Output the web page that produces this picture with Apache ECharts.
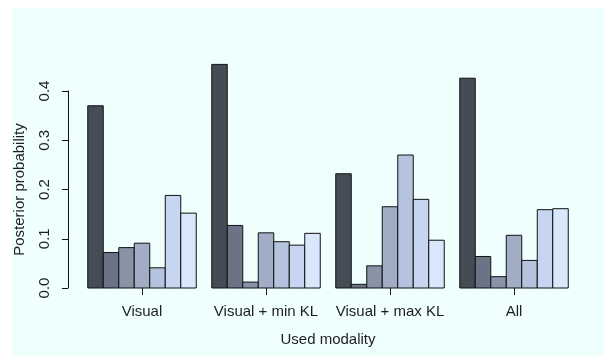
<!DOCTYPE html>
<html>
<head>
<meta charset="utf-8">
<script src="https://cdn.jsdelivr.net/npm/echarts@6/dist/echarts.min.js"></script>
<style>
  html, body { margin: 0; padding: 0; background: #ffffff; }
  #chart { position: absolute; left: 12px; top: 8px; width: 592px; height: 348px; }
</style>
</head>
<body>
<div id="chart"></div>
<script>
// Modality groups along the x axis
const categories = ['Visual', 'Visual + min KL', 'Visual + max KL', 'All'];

// Posterior probability of each of the seven hypotheses, per used modality
const visual      = [0.370, 0.072, 0.082, 0.091, 0.041, 0.188, 0.152];
const visualMinKL = [0.454, 0.127, 0.012, 0.112, 0.094, 0.087, 0.111];
const visualMaxKL = [0.232, 0.0075, 0.045, 0.165, 0.270, 0.180, 0.097];
const allModes    = [0.426, 0.064, 0.023, 0.107, 0.056, 0.159, 0.161];

// Y axis tick labels
const yTicks = [0.0, 0.1, 0.2, 0.3, 0.4];

const groups = [visual, visualMinKL, visualMaxKL, allModes];
const barColors = ['#464c56', '#6b7486', '#8893a8', '#a0adc4', '#b5c4de', '#c6d6f1', '#d9e7fd'];
const font = 'Liberation Sans, Arial, Helvetica, sans-serif';
const ink = '#1e1e1e';
const fs = 15;
const barsPerGroup = barColors.length;

// One row per bar: [group index, bar index within group, probability]
const barData = [];
groups.forEach((g, gi) => g.forEach((v, bi) => barData.push([gi, bi, v])));

// Adjacent bars share their outlines; one empty bar-width separates the groups
function renderBar(params, api) {
  const gi = api.value(0);
  const bi = api.value(1);
  const v = api.value(2);
  const bandW = api.size([1, 0])[0];
  const barW = bandW / (barsPerGroup + 1);
  const base = api.coord([gi, 0]);
  const top = api.coord([gi, v]);
  const x0 = base[0] - (barsPerGroup / 2) * barW + bi * barW;
  return {
    type: 'rect',
    shape: { x: x0, y: top[1], width: barW, height: base[1] - top[1] },
    style: { fill: barColors[bi], stroke: '#111', lineWidth: 1 }
  };
}

const chart = echarts.init(document.getElementById('chart'), null, { renderer: 'canvas' });
chart.setOption({
  animation: false,
  backgroundColor: '#effffe',
  textStyle: { fontFamily: font },
  grid: { left: 68, right: 28, top: 83, bottom: 68, containLabel: false, outerBoundsMode: 'none' },
  xAxis: {
    type: 'category',
    data: categories,
    offset: 2,
    boundaryGap: true,
    axisLine: { show: false },
    axisTick: { show: true, alignWithLabel: true, length: 7, lineStyle: { color: '#111' } },
    axisLabel: { color: ink, fontSize: fs, fontFamily: font, margin: 14, interval: 0 },
    splitLine: { show: false },
    name: 'Used modality',
    nameLocation: 'middle',
    nameGap: 42,
    nameTextStyle: { color: ink, fontSize: fs, fontFamily: font }
  },
  yAxis: {
    type: 'value',
    min: 0,
    max: yTicks[yTicks.length - 1],
    interval: 0.1,
    offset: 12,
    axisLine: { show: true, lineStyle: { color: '#111' } },
    axisTick: { show: true, length: 6, lineStyle: { color: '#111' } },
    axisLabel: {
      color: ink, fontSize: fs, fontFamily: font, rotate: 90, margin: 16,
      formatter: v => v.toFixed(1)
    },
    splitLine: { show: false },
    name: 'Posterior probability',
    nameLocation: 'middle',
    nameGap: 41,
    nameRotate: 90,
    nameTextStyle: { color: ink, fontSize: fs, fontFamily: font }
  },
  series: [{
    type: 'custom',
    name: 'posterior',
    data: barData,
    encode: { x: 0, y: 2 },
    renderItem: renderBar,
    clip: false,
    silent: true,
    // Baseline axis line running from the first group tick to the last one
    markLine: {
      silent: true,
      symbol: ['none', 'none'],
      label: { show: false },
      lineStyle: { color: '#111', width: 1, type: 'solid' },
      data: [[
        { coord: [categories[0], -0.004] },
        { coord: [categories[categories.length - 1], -0.004] }
      ]]
    }
  }]
});
</script>
</body>
</html>
